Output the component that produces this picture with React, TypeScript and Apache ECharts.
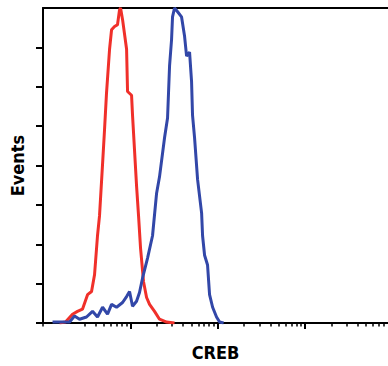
import React, { useEffect, useRef } from "react";
import * as echarts from "echarts";

// x values are log10 of fluorescence intensity, y values are % of max events
const redLogX = [0.189, 0.258, 0.338, 0.395, 0.452, 0.51, 0.556, 0.59, 0.624, 0.647, 0.682, 0.704, 0.727, 0.762, 0.785, 0.819, 0.853, 0.876, 0.888, 0.911, 0.957, 0.968, 1.014, 1.025, 1.071, 1.094, 1.117, 1.151, 1.186, 1.22, 1.277, 1.334, 1.415, 1.506];
const redY = [0, 0.3, 2.8, 3.7, 4.4, 9.0, 10.0, 15.3, 27.7, 34.0, 50.5, 61.1, 72.9, 86.9, 93.1, 94.1, 94.7, 99.4, 100, 96.3, 86.9, 73.5, 72.3, 66.0, 43.6, 34.0, 23.7, 13.1, 8.1, 5.9, 3.7, 1.2, 0.3, 0];

const blueLogX = [0.109, 0.212, 0.304, 0.361, 0.418, 0.498, 0.567, 0.624, 0.682, 0.739, 0.785, 0.842, 0.911, 0.957, 0.991, 1.025, 1.071, 1.105, 1.14, 1.197, 1.254, 1.3, 1.334, 1.392, 1.426, 1.449, 1.472, 1.483, 1.506, 1.541, 1.586, 1.621, 1.644, 1.678, 1.701, 1.712, 1.735, 1.77, 1.816, 1.827, 1.85, 1.884, 1.907, 1.942, 1.987, 2.022, 2.068];
const blueY = [0.3, 0.3, 0.3, 2.2, 1.2, 1.9, 3.7, 1.9, 5.0, 2.8, 5.9, 5.0, 6.5, 8.4, 10.0, 5.3, 6.9, 9.7, 14.3, 20.6, 27.7, 41.1, 46.4, 58.9, 65.1, 81.6, 90.0, 97.2, 100, 98.8, 97.2, 91.0, 84.7, 86.0, 76.6, 66.0, 58.9, 45.5, 34.9, 27.7, 21.5, 18.4, 9.0, 5.0, 1.9, 0.3, 0];

const majorTicks = [1, 2, 3];
const minorTickMultipliers = [2, 3, 4, 5, 6, 7, 8, 9];
const yTicks = [0, 12.5, 25, 37.5, 50, 62.5, 75, 87.5];
const xMax = 3.95;

const minorTicks: number[] = [0];
for (let d = 0; d < 4; d++) {
  for (const m of minorTickMultipliers) {
    if (d === 0 && m === 2) continue;
    const v = d + Math.log10(m);
    if (v <= xMax) minorTicks.push(v);
  }
}

const font = "'Liberation Sans Narrow', 'DejaVu Sans Condensed', 'Arial Narrow', sans-serif";

export default function App() {
  const ref = useRef<HTMLDivElement>(null);
  useEffect(() => {
    const chart = echarts.init(ref.current!, undefined, { renderer: "svg" });
    const axisLine = { show: true, lineStyle: { color: "#000", width: 2 } };
    chart.setOption({
      animation: false,
      grid: { left: 43, right: 0, top: 8, bottom: 37 },
      xAxis: [
        {
          type: "value",
          min: 0,
          max: xMax,
          position: "bottom",
          axisLine,
          axisTick: { show: true, customValues: majorTicks, length: 6, lineStyle: { color: "#000", width: 2 } },
          axisLabel: { show: false },
          splitLine: { show: false },
          name: "CREB",
          nameLocation: "middle",
          nameGap: 20,
          nameTextStyle: { fontFamily: font, fontWeight: "bold", fontSize: 18, color: "#000" },
        },
        {
          type: "value",
          min: 0,
          max: xMax,
          position: "bottom",
          axisLine: { show: false },
          axisTick: { show: true, customValues: minorTicks, length: 3.5, lineStyle: { color: "#000", width: 1.5 } },
          axisLabel: { show: false },
          splitLine: { show: false },
        },
        {
          type: "value",
          min: 0,
          max: xMax,
          position: "top",
          axisLine,
          axisTick: { show: false },
          axisLabel: { show: false },
          splitLine: { show: false },
        },
      ],
      yAxis: {
        type: "value",
        min: 0,
        max: 100,
        axisLine,
        axisTick: { show: true, customValues: yTicks, length: 7, lineStyle: { color: "#000", width: 2 } },
        axisLabel: { show: false },
        splitLine: { show: false },
        name: "Events",
        nameLocation: "middle",
        nameRotate: 90,
        nameGap: 17,
        nameTextStyle: { fontFamily: font, fontWeight: "bold", fontSize: 18, color: "#000" },
      },
      series: [
        {
          type: "line",
          data: redLogX.map((x, i) => [x, redY[i]]),
          showSymbol: false,
          lineStyle: { color: "#f0302a", width: 3 },
          z: 2,
        },
        {
          type: "line",
          data: blueLogX.map((x, i) => [x, blueY[i]]),
          showSymbol: false,
          lineStyle: { color: "#3247a8", width: 3 },
          z: 3,
        },
      ],
    });
    return () => chart.dispose();
  }, []);
  return (
    <div style={{ position: "absolute", left: 0, top: 0, width: 388, height: 366, background: "#fff" }}>
      <div ref={ref} style={{ width: 388, height: 366 }} />
    </div>
  );
}
